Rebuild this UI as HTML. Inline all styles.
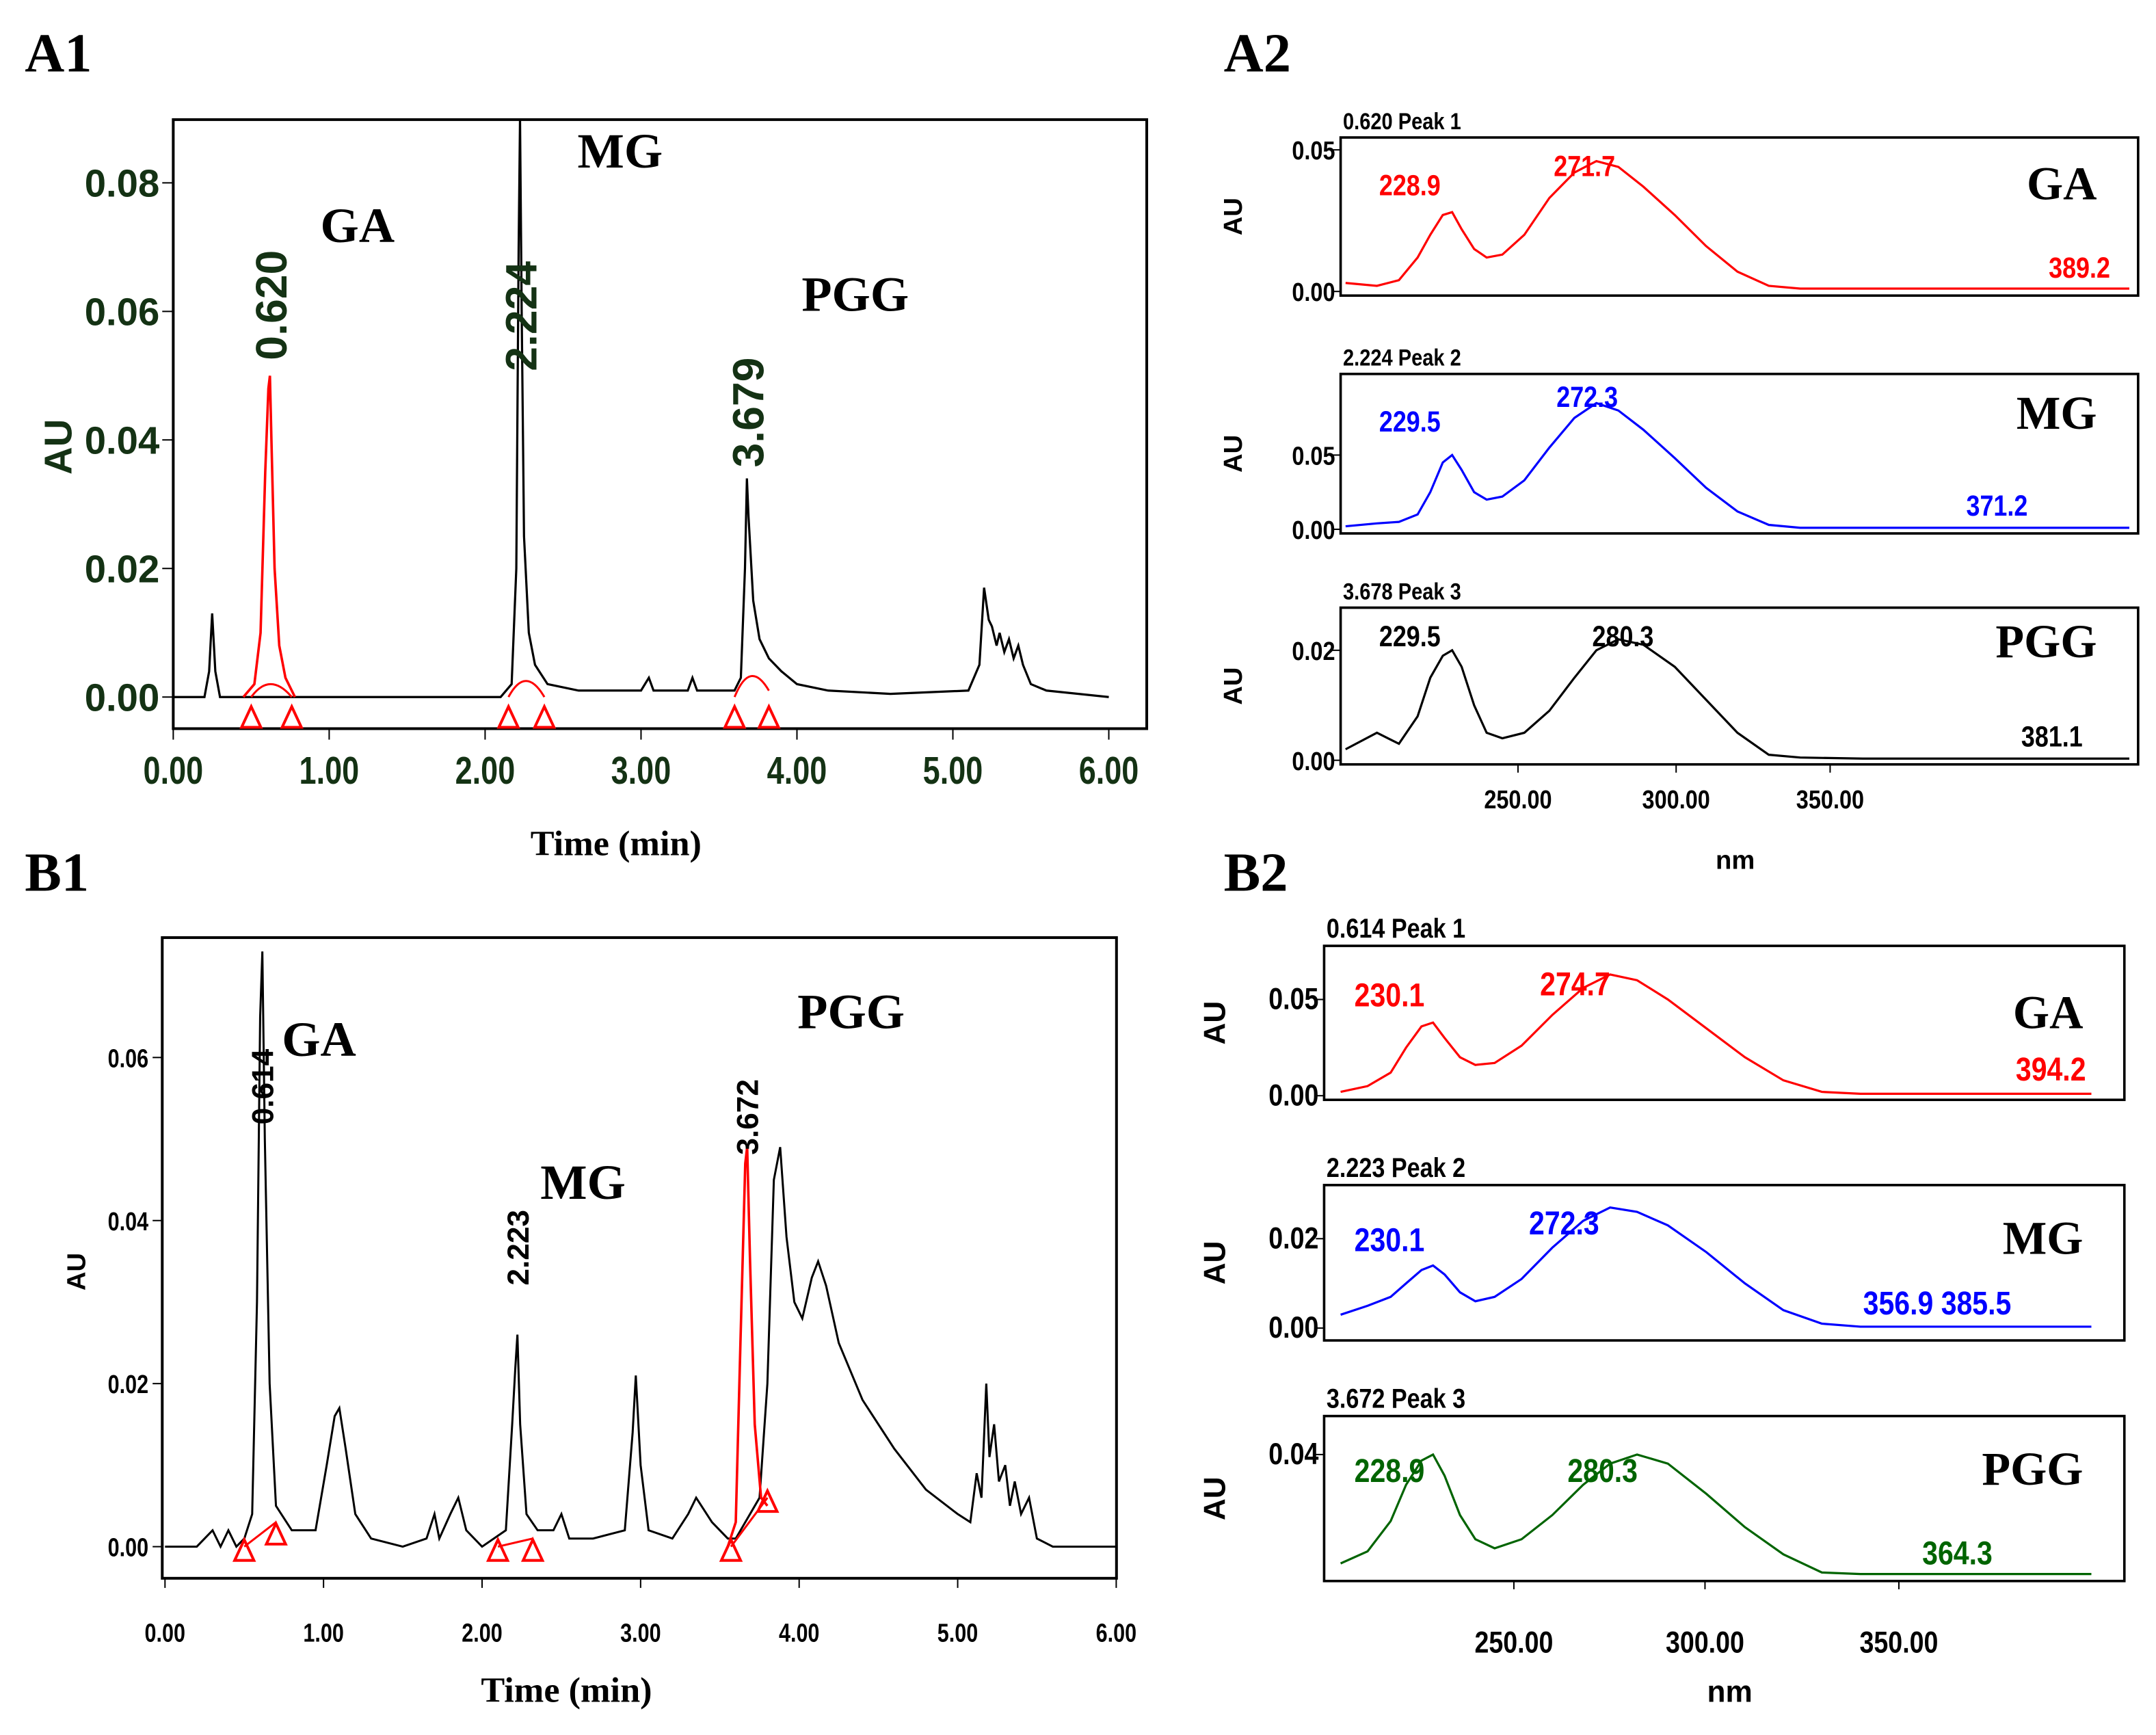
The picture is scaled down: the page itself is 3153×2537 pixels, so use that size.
<!DOCTYPE html>
<html><head><meta charset="utf-8"><style>
html,body{margin:0;padding:0;background:#fff}
svg{display:block}
.pl{font-family:"Liberation Serif",serif;font-weight:bold;font-size:40px}
.cl{font-family:"Liberation Serif",serif;font-weight:bold}
.tk{font-family:"Liberation Sans",sans-serif;font-weight:bold}
</style></head><body>
<svg id="fig" width="3153" height="2537" viewBox="0 0 1568 1262" preserveAspectRatio="none" xmlns="http://www.w3.org/2000/svg">
<rect width="1568" height="1262" fill="#fff"/>
<text class="pl" x="18" y="52">A1</text>
<text class="pl" x="890" y="52">A2</text>
<text class="pl" x="18" y="648">B1</text>
<text class="pl" x="890" y="648">B2</text>
<g id="g"></g>
</svg>
<script>
// ---------- data ----------
const a1Times=[0,0.2,0.23,0.25,0.27,0.3,0.5,1.0,2.1,2.17,2.2,2.215,2.224,2.235,2.25,2.28,2.32,2.4,2.6,3.0,3.05,3.08,3.12,3.3,3.33,3.36,3.6,3.64,3.667,3.679,3.69,3.72,3.76,3.82,3.9,4.0,4.2,4.6,5.1,5.17,5.2,5.23,5.25,5.28,5.3,5.33,5.36,5.39,5.42,5.45,5.5,5.6,6.0];
const a1Values=[0,0,0.004,0.013,0.004,0,0,0,0,0.002,0.02,0.07,0.09,0.06,0.025,0.01,0.005,0.002,0.001,0.001,0.003,0.001,0.001,0.001,0.003,0.001,0.001,0.003,0.02,0.034,0.028,0.015,0.009,0.006,0.004,0.002,0.001,0.0005,0.001,0.005,0.017,0.012,0.011,0.008,0.01,0.007,0.009,0.006,0.008,0.005,0.002,0.001,0];
const a1RedTimes=[0.45,0.52,0.56,0.59,0.61,0.62,0.63,0.65,0.68,0.72,0.78];
const a1RedValues=[0,0.002,0.01,0.035,0.048,0.05,0.04,0.02,0.008,0.003,0];
const a1Marks=[0.5,0.76,2.15,2.38,3.6,3.82];
const a1XTicks=[0,1,2,3,4,5,6];
const a1YTicks=[0,0.02,0.04,0.06,0.08];

const b1Times=[0,0.2,0.3,0.35,0.4,0.45,0.5,0.55,0.58,0.6,0.614,0.63,0.66,0.7,0.8,0.95,1.02,1.07,1.1,1.14,1.2,1.3,1.5,1.65,1.7,1.73,1.8,1.85,1.9,2.0,2.15,2.19,2.21,2.223,2.24,2.28,2.35,2.45,2.5,2.55,2.7,2.9,2.95,2.97,3.0,3.05,3.2,3.3,3.35,3.45,3.55,3.6];
const b1Values=[0,0,0.002,0,0.002,0,0.001,0.004,0.03,0.065,0.073,0.05,0.02,0.005,0.002,0.002,0.01,0.016,0.017,0.012,0.004,0.001,0,0.001,0.004,0.001,0.004,0.006,0.002,0,0.002,0.015,0.022,0.026,0.015,0.004,0.002,0.002,0.004,0.001,0.001,0.002,0.014,0.021,0.01,0.002,0.001,0.004,0.006,0.003,0.001,0.001];
const b1TailTimes=[3.6,3.75,3.8,3.84,3.88,3.92,3.97,4.02,4.08,4.12,4.17,4.25,4.4,4.6,4.8,5.0,5.08,5.12,5.15,5.18,5.2,5.23,5.26,5.3,5.33,5.36,5.4,5.45,5.5,5.6,6.0];
const b1TailValues=[0.001,0.006,0.02,0.045,0.049,0.038,0.03,0.028,0.033,0.035,0.032,0.025,0.018,0.012,0.007,0.004,0.003,0.009,0.006,0.02,0.011,0.015,0.008,0.01,0.005,0.008,0.004,0.006,0.001,0,0];
const b1RedTimes=[3.55,3.6,3.63,3.66,3.672,3.69,3.72,3.76,3.8];
const b1RedValues=[0,0.003,0.025,0.047,0.049,0.035,0.015,0.006,0.005];
const b1Marks=[0.5,0.7,2.1,2.32,3.57,3.8];
const b1XTicks=[0,1,2,3,4,5,6];
const b1YTicks=[0,0.02,0.04,0.06];

const specNm=[195,205,212,218,222,226,229,232,236,240,245,252,260,268,275,282,290,300,310,320,330,340,360,400,445];
const a2GA=[0.003,0.002,0.004,0.012,0.02,0.027,0.028,0.022,0.015,0.012,0.013,0.02,0.033,0.042,0.046,0.044,0.037,0.027,0.016,0.007,0.002,0.001,0.001,0.001,0.001];
const a2MG=[0.002,0.004,0.005,0.01,0.025,0.045,0.05,0.04,0.025,0.02,0.022,0.033,0.055,0.075,0.085,0.08,0.067,0.048,0.028,0.012,0.003,0.001,0.001,0.001,0.001];
const a2PGG=[0.002,0.005,0.003,0.008,0.015,0.019,0.02,0.017,0.01,0.005,0.004,0.005,0.009,0.015,0.02,0.022,0.021,0.017,0.011,0.005,0.001,0.0005,0.0003,0.0003,0.0003];
const b2GA=[0.001,0.002,0.005,0.012,0.025,0.036,0.038,0.03,0.02,0.016,0.017,0.026,0.042,0.056,0.063,0.06,0.05,0.035,0.02,0.008,0.002,0.001,0.001,0.001,0.001];
const b2MG=[0.001,0.003,0.005,0.007,0.01,0.013,0.014,0.012,0.008,0.006,0.007,0.011,0.018,0.024,0.027,0.026,0.023,0.017,0.01,0.004,0.001,0.0003,0.0003,0.0003,0.0003];
const b2PGG=[0.002,0.004,0.008,0.018,0.03,0.038,0.04,0.033,0.02,0.012,0.009,0.012,0.02,0.03,0.037,0.04,0.037,0.027,0.016,0.007,0.001,0.0005,0.0005,0.0005,0.0005];

// ---------- helpers ----------
const NS="http://www.w3.org/2000/svg";
const G=document.getElementById('g');
function el(tag,attrs,parent){const e=document.createElementNS(NS,tag);for(const k in attrs)e.setAttribute(k,attrs[k]);(parent||G).appendChild(e);return e;}
function txt(x,y,s,cls,extra){const t=el('text',Object.assign({x:x,y:y,class:cls||'tk'},extra||{}));t.textContent=s;return t;}
function path(xs,ys,sx,sy){return xs.map((t,i)=>(i?'L':'M')+sx(t).toFixed(1)+','+sy(ys[i]).toFixed(1)).join('');}
function tri(cx,by,parent){const p=el('path',{d:`M${cx-7},${by} L${cx},${by-15} L${cx+7},${by} Z`,fill:'none',stroke:'#f00','stroke-width':2},parent);

}

// ---------- A1 ----------
{
const ax=t=>126+t*113.4, ay=v=>507-v*4675;
const r=el('rect',{x:126,y:87,width:708,height:443,fill:'none',stroke:'#000','stroke-width':2});


a1XTicks.forEach(t=>{el('line',{x1:ax(t),x2:ax(t),y1:530,y2:538,stroke:'#000'});
 const l=txt(ax(t),570,t.toFixed(2),'tk',{'text-anchor':'middle','font-size':28,fill:'#143214',transform:`translate(${ax(t)},570) scale(0.8,1) translate(${-ax(t)},-570)`});
 
 });
a1YTicks.forEach(v=>{el('line',{x1:118,x2:126,y1:ay(v),y2:ay(v),stroke:'#000'});
 const l=txt(116,ay(v)+10,v.toFixed(2),'tk',{'text-anchor':'end','font-size':28,fill:'#143214'});
 
 });
const yt=txt(0,0,'AU','tk',{'font-size':28,fill:'#143214',transform:'translate(52,325) rotate(-90)','text-anchor':'middle'});


const xt=txt(448,622,'Time (min)','cl',{style:'font-size:26px','text-anchor':'middle'});


const ln=el('path',{d:path(a1Times,a1Values,ax,ay),fill:'none',stroke:'#000','stroke-width':1.6});


const rd=el('path',{d:path(a1RedTimes,a1RedValues,ax,ay),fill:'none',stroke:'#f00','stroke-width':1.8});


el('path',{d:`M${ax(0.5)},${ay(0)} Q${ax(0.62)},${ay(0.004)} ${ax(0.76)},${ay(0)} M${ax(2.15)},${ay(0)} Q${ax(2.26)},${ay(0.005)} ${ax(2.38)},${ay(0)} M${ax(3.6)},${ay(0)} Q${ax(3.7)},${ay(0.006)} ${ax(3.82)},${ay(0.001)}`,fill:'none',stroke:'#f00','stroke-width':1.5});
a1Marks.forEach(t=>tri(ax(t),ay(0)+22));
[['0.620',0.62,262],['2.224',2.224,270],['3.679',3.679,340]].forEach(([s,t,y])=>{
 const l=txt(0,0,s,'tk',{'font-size':32,fill:'#143214',transform:`translate(${ax(t)+12},${y}) rotate(-90)`});
 
 });
[['GA',233,176],['MG',420,122],['PGG',583,226]].forEach(([s,x,y])=>{const l=txt(x,y,s,'cl',{style:'font-size:36px'});
 
 });
}

// ---------- B1 ----------
{
const ax=t=>120+t*115.3, ay=v=>1125-v*5930;
const r=el('rect',{x:118,y:682,width:694,height:466,fill:'none',stroke:'#000','stroke-width':2});


b1XTicks.forEach(t=>{el('line',{x1:ax(t),x2:ax(t),y1:1148,y2:1155,stroke:'#000'});
 const l=txt(ax(t),1194,t.toFixed(2),'tk',{'text-anchor':'middle','font-size':19,transform:`translate(${ax(t)},1194) scale(0.8,1) translate(${-ax(t)},-1194)`});
 
 });
b1YTicks.forEach(v=>{el('line',{x1:111,x2:118,y1:ay(v),y2:ay(v),stroke:'#000'});
 const l=txt(108,ay(v)+7,v.toFixed(2),'tk',{'text-anchor':'end','font-size':19,transform:`translate(108,${ay(v)}) scale(0.8,1) translate(-108,${-ay(v)})`});
 
 });
const yt=txt(0,0,'AU','tk',{'font-size':19,transform:'translate(62,925) rotate(-90)','text-anchor':'middle'});


const xt=txt(412,1238,'Time (min)','cl',{style:'font-size:26px','text-anchor':'middle'});


const ln=el('path',{d:path(b1Times,b1Values,ax,ay),fill:'none',stroke:'#000','stroke-width':1.5});


const ln2=el('path',{d:path(b1TailTimes,b1TailValues,ax,ay),fill:'none',stroke:'#000','stroke-width':1.5});


const rd=el('path',{d:path(b1RedTimes,b1RedValues,ax,ay),fill:'none',stroke:'#f00','stroke-width':1.8});


el('path',{d:`M${ax(0.5)},${ay(0)} L${ax(0.7)},${ay(0.003)} M${ax(2.1)},${ay(0)} L${ax(2.32)},${ay(0.001)} M${ax(3.57)},${ay(0)} L${ax(3.8)},${ay(0.006)}`,fill:'none',stroke:'#f00','stroke-width':1.5});
b1Marks.forEach((t,i)=>tri(ax(t),ay(i==5?0.006:(i==1?0.002:0))+10));
[['0.614',0.614,818],['2.223',2.223,935],['3.672',3.672,840]].forEach(([s,t,y])=>{
 const l=txt(0,0,s,'tk',{'font-size':22,transform:`translate(${ax(t)+8},${y}) rotate(-90)`});
 
 });
[['GA',205,768],['MG',393,872],['PGG',580,748]].forEach(([s,x,y])=>{const l=txt(x,y,s,'cl',{style:'font-size:36px'});
 
 });
}

// ---------- spectra ----------
function spectrum(o){
 const ax=n=>o.x250+(n-250)*o.ppn;
 const ay=v=>o.y0-v*o.ypu;
 const r=el('rect',{x:o.x0,y:o.top,width:o.x1-o.x0,height:o.bot-o.top,fill:'none',stroke:'#000','stroke-width':1.8});
 
 
 const t=txt(o.x0+2,o.top-6,o.title,'tk',{'font-size':o.fs-2,transform:`translate(${o.x0},${o.top-6}) scale(0.85,1) translate(${-o.x0},${-(o.top-6)})`});
 
 
 o.ticks.forEach(v=>{el('line',{x1:o.x0-6,x2:o.x0,y1:ay(v),y2:ay(v),stroke:'#000'});
  const l=txt(o.x0-4,ay(v)+7,v.toFixed(2),'tk',{'text-anchor':'end','font-size':o.fs,transform:`translate(${o.x0-4},${ay(v)}) scale(0.85,1) translate(${-(o.x0-4)},${-ay(v)})`});
  
  });
 const yt=txt(0,0,'AU','tk',{'font-size':o.fs,transform:`translate(${o.x0-72},${(o.top+o.bot)/2}) rotate(-90)`,'text-anchor':'middle'});
 
 
 const xs=specNm.filter(n=>ax(n)>=o.x0&&ax(n)<=o.x1), ys=o.vals.filter((v,i)=>ax(specNm[i])>=o.x0&&ax(specNm[i])<=o.x1);
 const ln=el('path',{d:path(xs,ys,ax,ay),fill:'none',stroke:o.color,'stroke-width':1.6});
 
 
 o.labels.forEach(([s,x,y])=>{const l=txt(x,y,s,'tk',{'font-size':o.fs+2,fill:o.color,transform:`translate(${x},${y}) scale(0.85,1) translate(${-x},${-y})`});
  
  });
 const c=txt(o.x1-30,o.cy,o.comp,'cl',{style:'font-size:34px','text-anchor':'end'});
 
 
}
spectrum({name:'a2-ga',x0:975,x1:1555,top:100,bot:215,y0:212,ypu:2060,x250:1104,ppn:2.28,ticks:[0,0.05],vals:a2GA,color:'#f00',fs:19,title:'0.620 Peak 1',comp:'GA',cy:145,labels:[['228.9',1003,142],['271.7',1130,128],['389.2',1490,202]]});
spectrum({name:'a2-mg',x0:975,x1:1555,top:272,bot:388,y0:385,ypu:1080,x250:1104,ppn:2.28,ticks:[0,0.05],vals:a2MG,color:'#00f',fs:19,title:'2.224 Peak 2',comp:'MG',cy:312,labels:[['229.5',1003,314],['272.3',1132,296],['371.2',1430,375]]});
spectrum({name:'a2-pgg',x0:975,x1:1555,top:442,bot:556,y0:553,ypu:4000,x250:1104,ppn:2.28,ticks:[0,0.02],vals:a2PGG,color:'#000',fs:19,title:'3.678 Peak 3',comp:'PGG',cy:478,labels:[['229.5',1003,470],['280.3',1158,470],['381.1',1470,543]]});
spectrum({name:'b2-ga',x0:963,x1:1545,top:688,bot:800,y0:797,ypu:1400,x250:1101,ppn:2.8,ticks:[0,0.05],vals:b2GA,color:'#f00',fs:22,title:'0.614 Peak 1',comp:'GA',cy:748,labels:[['230.1',985,732],['274.7',1120,724],['394.2',1466,786]]});
spectrum({name:'b2-mg',x0:963,x1:1545,top:862,bot:975,y0:966,ypu:3250,x250:1101,ppn:2.8,ticks:[0,0.02],vals:b2MG,color:'#00f',fs:22,title:'2.223 Peak 2',comp:'MG',cy:912,labels:[['230.1',985,910],['272.3',1112,898],['356.9 385.5',1355,956]]});
spectrum({name:'b2-pgg',x0:963,x1:1545,top:1030,bot:1150,y0:1146,ypu:2200,x250:1101,ppn:2.8,ticks:[0.04],vals:b2PGG,color:'#006400',fs:22,title:'3.672 Peak 3',comp:'PGG',cy:1080,labels:[['228.9',985,1078],['280.3',1140,1078],['364.3',1398,1138]]});
[[ [1104,1219,1331],556,588,1262,632,19],[ [1101,1240,1381],1150,1202,1258,1238,22]].forEach(([xs,axy,ly,nx,ny,fs])=>{
 xs.forEach((x,i)=>{el('line',{x1:x,x2:x,y1:axy,y2:axy+6,stroke:'#000'});
  const l=txt(x,ly,(250+50*i).toFixed(2),'tk',{'text-anchor':'middle','font-size':fs,transform:`translate(${x},${ly}) scale(0.85,1) translate(${-x},${-ly})`});
  
  });
 const t=txt(nx,ny,'nm','tk',{'text-anchor':'middle','font-size':fs});
 
 
});
</script>
</body></html>
